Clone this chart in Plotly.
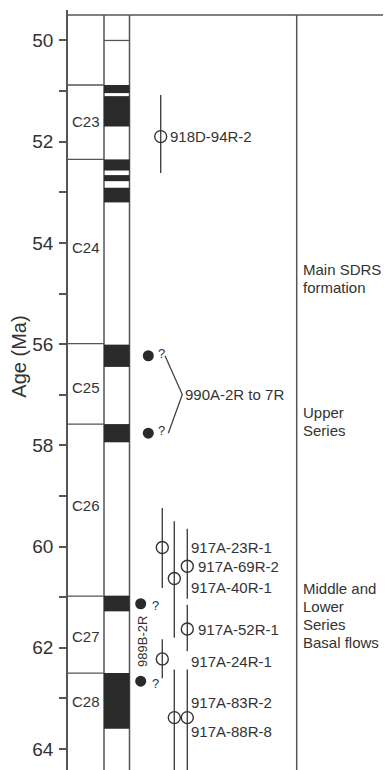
import plotly.graph_objects as go

# ---------------- data ----------------
tick_vals = [50, 52, 54, 56, 58, 60, 62, 64]
tick_text = ["50", "52", "54", "56", "58", "60", "62", "64"]

chron_names = ["C23", "C24", "C25", "C26", "C27", "C28"]
chron_label_age = [51.61, 54.10, 56.86, 59.19, 61.78, 63.06]
chron_boundaries = [50.88, 52.35, 55.99, 57.58, 60.98, 62.50]
polarity_line_age = [50.0]
normal_top = [50.88, 51.10, 52.35, 52.66, 52.91, 56.01, 57.58, 60.97, 62.50]
normal_bottom = [51.04, 51.70, 52.57, 52.78, 53.20, 56.45, 57.94, 61.28, 63.60]

sample_names = ["918D-94R-2", "917A-23R-1", "917A-69R-2", "917A-40R-1",
                "917A-52R-1", "917A-24R-1", "917A-83R-2", "917A-88R-8"]
sample_age = [51.90, 60.02, 60.39, 60.63, 61.63, 62.22, 63.38, 63.38]
sample_young = [51.08, 59.24, 59.65, 59.50, 61.15, 61.83, 62.43, 62.43]
sample_old = [52.62, 60.82, 61.03, 61.80, 62.07, 62.60, 64.80, 64.80]

site990_name = "990A-2R to 7R"
site990_age = [56.23, 57.76]
site989_name = "989B-2R"
site989_age = [61.13, 62.66]

unit_lines = [["Main SDRS", "formation"], ["Upper", "Series"],
              ["Middle and", "Lower", "Series", "Basal flows"]]
unit_age = [54.70, 57.53, 61.37]

# ---------------- layout constants ----------------
# the page adds an 8 px body margin, so the figure is drawn 8 px in from the top-left
PAGE_OFF = 8
AGE_TOP = 49.496
AGE_RANGE = [64.415, 49.398]
X_RANGE = [68, 391]
COL_DIV = [104, 129.5, 296.7]
LANE_X = [160.7, 162.3, 187.3, 174.3, 187.3, 162.3, 174.3, 187.3]
LABEL_X = [170, 190.7, 198, 190.7, 198, 190.7, 190.7, 190.7]
LABEL_DAGE = [0, 0, 0, 0.17, 0, 0.06, -0.29, 0.28]
X990, X989 = 148.3, 140.7
UNIT_LINE_PX = 18
LINE = "#555555"
INK = "#2a2a2a"
TXT = "#333333"
FONT = "Liberation Sans, Arial, Helvetica, sans-serif"

fig = go.Figure()

# sample error bars and open circles
fig.add_trace(go.Scatter(
    x=LANE_X, y=sample_age, mode="markers",
    marker=dict(symbol="circle-open", size=12, color="#333333", line=dict(width=1.4)),
    error_y=dict(type="data", symmetric=False,
                 array=[o - a for o, a in zip(sample_old, sample_age)],
                 arrayminus=[a - y for a, y in zip(sample_age, sample_young)],
                 width=0, thickness=1.4, color="#444444"),
    hoverinfo="skip", showlegend=False))

# filled circles
fig.add_trace(go.Scatter(
    x=[X990] * len(site990_age) + [X989] * len(site989_age),
    y=site990_age + site989_age, mode="markers",
    marker=dict(symbol="circle", size=11, color=INK),
    hoverinfo="skip", showlegend=False))

# bracket for 990A
fig.add_trace(go.Scatter(
    x=[165, 182.3, 168.3],
    y=[site990_age[0], (site990_age[0] + site990_age[1]) / 2, site990_age[1]],
    mode="lines", line=dict(color="#444444", width=1.3),
    hoverinfo="skip", showlegend=False))

shapes = []
shapes.append(dict(type="line", xref="x", yref="y", x0=68, x1=400, y0=AGE_TOP, y1=AGE_TOP,
                   line=dict(color=LINE, width=1.5)))
for xd in COL_DIV:
    shapes.append(dict(type="line", xref="x", yref="y", x0=xd, x1=xd, y0=AGE_TOP, y1=65,
                       line=dict(color=LINE, width=1.5)))
for b in chron_boundaries:
    shapes.append(dict(type="line", xref="x", yref="y", x0=68, x1=104, y0=b, y1=b,
                       line=dict(color=LINE, width=1.3)))
for b in polarity_line_age:
    shapes.append(dict(type="line", xref="x", yref="y", x0=104, x1=129.5, y0=b, y1=b,
                       line=dict(color=LINE, width=1.3)))
for t, bt in zip(normal_top, normal_bottom):
    shapes.append(dict(type="rect", xref="x", yref="y", x0=104, x1=129.5, y0=t, y1=bt,
                       fillcolor=INK, line=dict(width=0)))

annotations = []
for n, a in zip(chron_names, chron_label_age):
    annotations.append(dict(x=70, y=a, xref="x", yref="y", text=n, showarrow=False,
                            xanchor="left", yanchor="middle",
                            font=dict(size=15, color=TXT, family=FONT)))
for n, a, lx, da in zip(sample_names, sample_age, LABEL_X, LABEL_DAGE):
    annotations.append(dict(x=lx - 2, y=a + da, xref="x", yref="y", text=n, showarrow=False,
                            xanchor="left", yanchor="middle",
                            font=dict(size=15, color=TXT, family=FONT)))
annotations.append(dict(x=183, y=(site990_age[0] + site990_age[1]) / 2, xref="x", yref="y",
                        text=site990_name, showarrow=False, xanchor="left", yanchor="middle",
                        font=dict(size=15, color=TXT, family=FONT)))
for a in site990_age:
    annotations.append(dict(x=155.5, y=a - 0.05, xref="x", yref="y", text="?", showarrow=False,
                            xanchor="left", yanchor="middle",
                            font=dict(size=13, color=TXT, family=FONT)))
for a in site989_age:
    annotations.append(dict(x=150, y=a + 0.04, xref="x", yref="y", text="?", showarrow=False,
                            xanchor="left", yanchor="middle",
                            font=dict(size=13, color=TXT, family=FONT)))
annotations.append(dict(x=142.7, y=61.87, xref="x", yref="y", text=site989_name,
                        showarrow=False, textangle=-90, xanchor="center", yanchor="middle",
                        font=dict(size=13, color=TXT, family=FONT)))
for lines, a in zip(unit_lines, unit_age):
    n = len(lines)
    for i, ln in enumerate(lines):
        annotations.append(dict(x=301, y=a, xref="x", yref="y", text=ln, showarrow=False,
                                xanchor="left", yanchor="middle",
                                yshift=-(i - (n - 1) / 2) * UNIT_LINE_PX,
                                font=dict(size=15, color=TXT, family=FONT)))
annotations.append(dict(x=-0.152, y=56.25, xref="paper", yref="y", text="Age (Ma)",
                        showarrow=False, textangle=-90, xanchor="center", yanchor="middle",
                        font=dict(size=20, color=TXT, family=FONT)))

fig.update_layout(
    width=391 - PAGE_OFF, height=770 - PAGE_OFF,
    margin=dict(l=68 - PAGE_OFF, r=0, t=10 - PAGE_OFF, b=0, autoexpand=False),
    paper_bgcolor="white", plot_bgcolor="white",
    shapes=shapes, annotations=annotations,
    xaxis=dict(range=X_RANGE, visible=False, fixedrange=True),
    yaxis=dict(range=AGE_RANGE, tickvals=tick_vals, ticktext=tick_text, automargin=False,
               showgrid=False, zeroline=False, showline=True, linecolor=LINE, linewidth=1.5,
               ticks="outside", ticklen=7, tickwidth=1.5, tickcolor=LINE,
               ticklabelstandoff=2,
               tickfont=dict(size=19, color=TXT, family=FONT),
               minor=dict(dtick=1, tick0=49, ticks="outside", ticklen=7, tickwidth=1.5,
                          tickcolor=LINE, showgrid=False)),
    font=dict(family=FONT),
)

fig.write_html("out.html")
